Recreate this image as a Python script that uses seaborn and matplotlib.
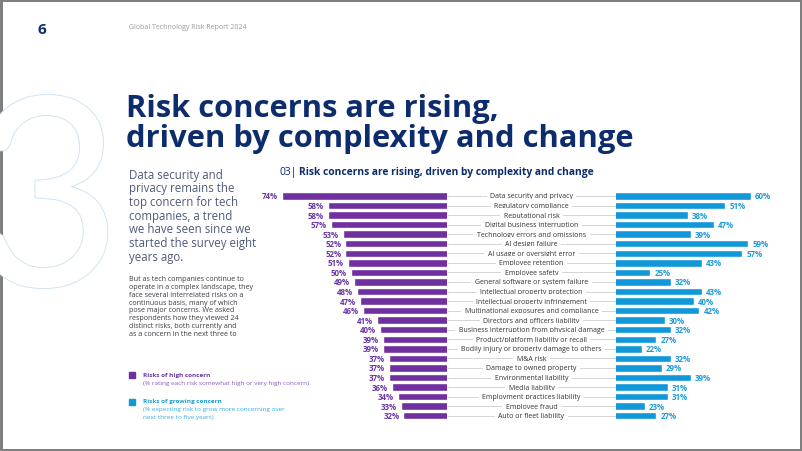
import matplotlib
matplotlib.use("Agg")
import matplotlib.pyplot as plt
import matplotlib.patheffects as pe
from matplotlib.patches import Rectangle
import seaborn as sns
import pandas as pd

# data
risks = [
    "Data security and privacy", "Regulatory compliance", "Reputational risk",
    "Digital business interruption", "Technology errors and omissions",
    "AI design failure", "AI usage or oversight error", "Employee retention",
    "Employee safety", "General software or system failure",
    "Intellectual property protection", "Intellectual property infringement",
    "Multinational exposures and compliance", "Directors and officers liability",
    "Business interruption from physical damage",
    "Product/platform liability or recall",
    "Bodily injury or property damage to others", "M&A risk",
    "Damage to owned property", "Environmental liability", "Media liability",
    "Employment practices liability", "Employee fraud", "Auto or fleet liability",
]
high_concern = [74, 58, 58, 57, 53, 52, 52, 51, 50, 49, 48, 47, 46, 41, 40, 39,
                39, 37, 37, 37, 36, 34, 33, 32]
growing_concern = [60, 51, 38, 47, 39, 59, 57, 43, 25, 32, 43, 40, 42, 30, 32, 27,
                   22, 32, 29, 39, 31, 31, 23, 27]

intro_lines = ["Data security and", "privacy remains the", "top concern for tech",
               "companies, a trend", "we have seen since we",
               "started the survey eight", "years ago."]
body_lines = ["But as tech companies continue to",
              "operate in a complex landscape, they",
              "face several interrelated risks on a",
              "continuous basis, many of which", "pose major concerns. We asked",
              "respondents how they viewed 24", "distinct risks, both currently and",
              "as a concern in the next three to"]

purple = "#7030a0"
blue = "#1098d9"
navy = "#0c2c6e"

sns.set_theme(style="white")
plt.rcParams['font.family'] = ['Open Sans', 'DejaVu Sans']

W, H = 802, 452
fig = plt.figure(figsize=(W / 100, H / 100), dpi=100, facecolor="white",
                 edgecolor="#7f7f7f", linewidth=2.5)


def fx(x):
    return x / W


def fy(y):
    return 1 - y / H


df = pd.DataFrame({"risk": risks, "high": high_concern, "growing": growing_concern})
n = len(risks)

# axes placed in pixels: purple bars end at x=447, blue bars start at 616
top, bot = 192.2, 421.5
ax1 = fig.add_axes([fx(270), fy(bot), (447 - 270) / W, (bot - top) / H])
ax2 = fig.add_axes([fx(447), fy(bot), (616 - 447) / W, (bot - top) / H])
ax3 = fig.add_axes([fx(616), fy(bot), (790 - 616) / W, (bot - top) / H])

sns.barplot(data=df, x="high", y="risk", color=purple, width=0.78,
            saturation=1, ax=ax1)
sns.barplot(data=df, x="growing", y="risk", color=blue, width=0.78,
            saturation=1, ax=ax3)

ax1.set_xlim(78, 17)
ax3.set_xlim(13, 73.6)
ax2.set_xlim(0, 1)
for ax in (ax1, ax2, ax3):
    ax.set_ylim(n - 0.5, -0.5)
    ax.axis("off")

pct_font = dict(fontsize=5.7, fontweight="bold", va="center")
for i, v in enumerate(high_concern):
    ax1.annotate(f"{v}%", (v, i), xytext=(-3, 0), textcoords="offset points",
                 ha="right", color="#6a35a6", **pct_font)
for i, v in enumerate(growing_concern):
    ax3.annotate(f"{v}%", (v, i), xytext=(3, 0), textcoords="offset points",
                 ha="left", color="#1c9bd8", **pct_font)

# leader lines with the risk names on top
ax2.hlines(range(n), 0, 1, color="#cfcfcf", lw=0.6)
for i, r in enumerate(risks):
    ax2.text(0.5, i, r, ha="center", va="center", fontsize=5.0, color="#333333",
             bbox=dict(facecolor="white", edgecolor="none", pad=2.5))

# page furniture
fig.text(fx(37), fy(30.5), "6", fontsize=11, fontweight="bold", color=navy,
         va="center")
fig.text(fx(129), fy(27.3), "Global Technology Risk Report 2024", fontsize=5,
         color="#9a9a9a", va="center")

fig.text(fx(122), fy(287), "3", fontsize=190, color="white", ha="right",
         va="baseline", family=["Lato", "DejaVu Sans"],
         path_effects=[pe.Stroke(linewidth=1.4, foreground="#cfe4f3"), pe.Normal()])

fig.text(fx(126), fy(117), "Risk concerns are rising,", fontsize=22.2,
         fontweight="bold", color=navy, va="baseline")
fig.text(fx(126), fy(147), "driven by complexity and change", fontsize=22.2,
         fontweight="bold", color=navy, va="baseline")

for i, line in enumerate(intro_lines):
    fig.text(fx(129), fy(175 + 13.75 * i), line, fontsize=8.3, color="#4f5b7a",
             va="center")
for i, line in enumerate(body_lines):
    fig.text(fx(129), fy(279.5 + 7.85 * i), line, fontsize=5.1, color="#3a3a48",
             va="center")

# chart title
fig.text(fx(280), fy(173), "03|", fontsize=7.4, color=navy, va="center")
fig.text(fx(299), fy(173), "Risk concerns are rising, driven by complexity and change",
         fontsize=7.4, fontweight="bold", color=navy, va="center")

# legend
fig.add_artist(Rectangle((fx(129), fy(379)), 6 / W, 6 / H, color=purple,
                         transform=fig.transFigure))
fig.add_artist(Rectangle((fx(129), fy(406)), 6 / W, 6 / H, color=blue,
                         transform=fig.transFigure))
fig.text(fx(143), fy(376), "Risks of high concern", fontsize=4.6, fontweight="bold",
         color="#6a35a6", va="center")
fig.text(fx(143), fy(384), "(% rating each risk somewhat high or very high concern)",
         fontsize=4.6, color="#8a5bbd", va="center")
fig.text(fx(143), fy(402), "Risks of growing concern", fontsize=4.6, fontweight="bold",
         color="#1c9bd8", va="center")
fig.text(fx(143), fy(410), "(% expecting risk to grow more concerning over",
         fontsize=4.6, color="#3aaae0", va="center")
fig.text(fx(143), fy(418), "next three to five years)",
         fontsize=4.6, color="#3aaae0", va="center")

fig.savefig("out.png", dpi=100, facecolor=fig.get_facecolor(),
            edgecolor=fig.get_edgecolor())
